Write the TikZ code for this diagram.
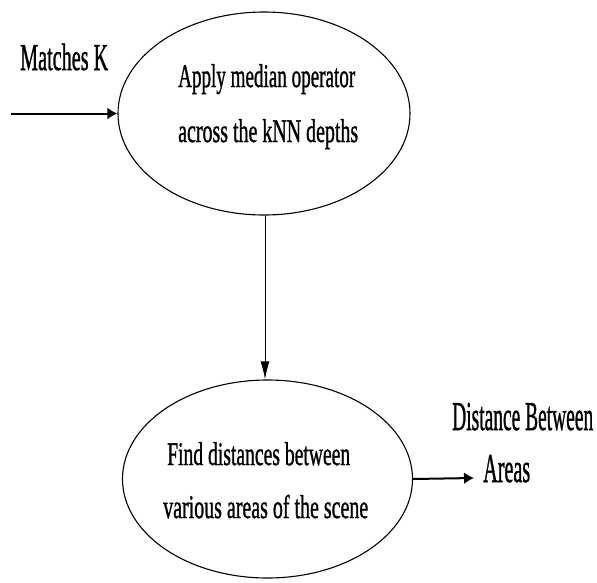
\documentclass[tikz,border=0pt]{standalone}
\usepackage{fontspec}
\setmainfont{Liberation Serif}[UprightFeatures={FakeBold=1.3}]
\usetikzlibrary{shapes.geometric,arrows.meta}
\newcommand\fitw[2]{\resizebox{#1}{\height}{#2}}
\tikzset{
  proc/.style={draw=black, line width=1.1pt, ellipse, inner sep=0pt},
  lbl/.style={inner sep=0pt, anchor=base west, text=black},
  thickarrow/.style={draw=black, line width=2pt, -{Latex[length=10pt,width=12pt]}},
  thinarrow/.style={draw=black, line width=1pt, -{Latex[length=18pt,width=9pt]}},
}
\begin{document}
\begin{tikzpicture}[x=1pt,y=-1pt]
\useasboundingbox (0,0) rectangle (597,582);
\fill[white] (0,0) rectangle (597,582);
% ellipses
\node[proc, minimum width=292pt, minimum height=203pt] (top) at (264,113.5) {};
\node[proc, minimum width=290pt, minimum height=198pt] (bot) at (267.5,479) {};
% texts
\begin{scope}[font=\fontsize{33}{33}\selectfont]
\node[lbl] (t1) at (178,87) {\fitw{177pt}{Apply median operator}};
\node[lbl] (t2) at (178,142) {\fitw{180pt}{across the kNN depths}};
\node[lbl] (b1) at (167,465) {\fitw{183pt}{Find distances between}};
\node[lbl] (b2) at (163,518) {\fitw{205pt}{various areas of the scene}};
\end{scope}
\node[lbl, font=\fontsize{38}{38}\selectfont] (mk) at (20,70) {\fitw{88pt}{Matches K}};
\node[lbl, font=\fontsize{41}{41}\selectfont] (db) at (452,430) {\fitw{141pt}{Distance Between}};
\node[lbl, font=\fontsize{41}{41}\selectfont] (ar) at (483,482) {\fitw{47pt}{Areas}};
% connectors
\coordinate (in) at (11,113.5);
\coordinate (out) at (474,478);
\draw[thickarrow] (in) -- (top.west);
\draw[thinarrow] (top.south) ++(1,0) coordinate (ts) -- (ts |- bot.north);
\draw[thickarrow] (bot.east) -- (out);
\end{tikzpicture}
\end{document}
